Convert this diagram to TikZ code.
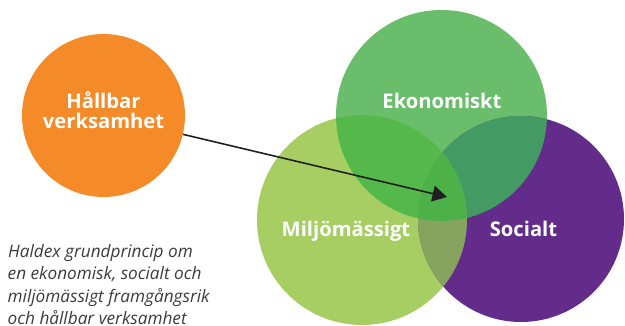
\documentclass[tikz,border=0pt]{standalone}
\usepackage{fontspec}
\setmainfont{Open Sans}
\usetikzlibrary{arrows.meta}

\definecolor{orangeC}{HTML}{F58A29}
\definecolor{ekoC}{HTML}{6ABE6B}
\definecolor{miljoC}{HTML}{A6CE62}
\definecolor{socialC}{HTML}{632C8B}
\definecolor{ekoMiljoC}{HTML}{54B84A}
\definecolor{ekoSocialC}{HTML}{439A63}
\definecolor{miljoSocialC}{HTML}{87A45F}
\definecolor{centerC}{HTML}{4DB149}
\definecolor{captionC}{HTML}{3C3C3C}
\definecolor{arrowC}{HTML}{231F20}

\tikzset{
  disc/.style={circle, inner sep=0pt, minimum size=#1},
  label text/.style={anchor=base, text=white, font=\bfseries\fontsize{20.2}{20}\selectfont, inner sep=0pt},
  caption line/.style={anchor=base west, inner sep=0pt, text=captionC, font=\itshape\fontsize{17.2}{20}\selectfont},
  pointer/.style={draw=arrowC, line width=1.6pt, -{Triangle[length=14.5pt, width=16pt]}}
}

\begin{document}
\begin{tikzpicture}[x=1pt, y=-1pt]
  \clip (0,0) rectangle (625,326);
  \fill[white] (0,0) rectangle (625,326);

  % the three overlapping circles
  \fill[ekoC] (441.5,115.5) circle (105.5);
  \fill[miljoC] (362,220) circle (105);
  \fill[socialC] (521,219) circle (103);

  % pairwise overlaps
  \begin{scope}
    \clip (441.5,115.5) circle (105.5);
    \fill[ekoMiljoC] (362,220) circle (105);
    \fill[ekoSocialC] (521,219) circle (103);
  \end{scope}
  \begin{scope}
    \clip (362,220) circle (105);
    \fill[miljoSocialC] (521,219) circle (103);
    \clip (441.5,115.5) circle (105.5);
    \fill[centerC] (521,219) circle (103);
  \end{scope}

  % named circle nodes (no fill; shapes are drawn above)
  \node[disc=211pt] (eko) at (441.5,115.5) {};
  \node[disc=210pt] (miljo) at (362,220) {};
  \node[disc=206pt] (social) at (521,219) {};

  % orange circle
  \node[disc=163pt, fill=orangeC] (hallbar) at (103.5,115.5) {};
  \node[label text] (hallbarA) at (103.5,108.3) {Hållbar};
  \node[label text] (hallbarB) at (103.5,128.3) {verksamhet};

  % circle labels
  \node[label text] (ekoText) at (442,108.3) {Ekonomiskt};
  \node[label text] (miljoText) at (346,236.7) {Miljömässigt};
  \node[label text] (socialText) at (523.5,236.7) {Socialt};

  % pointer from the orange circle into the common centre
  \coordinate (tip) at (447,197);
  \draw[pointer] (hallbar) -- (tip);

  % caption
  \node[caption line] (cap1) at (8,257.5) {Haldex grundprincip om};
  \node[caption line] (cap2) at (7.5,280) {en ekonomisk, socialt och};
  \node[caption line] (cap3) at (7.5,302.5) {miljömässigt framgångsrik};
  \node[caption line] (cap4) at (7.5,325) {och hållbar verksamhet};
\end{tikzpicture}
\end{document}
